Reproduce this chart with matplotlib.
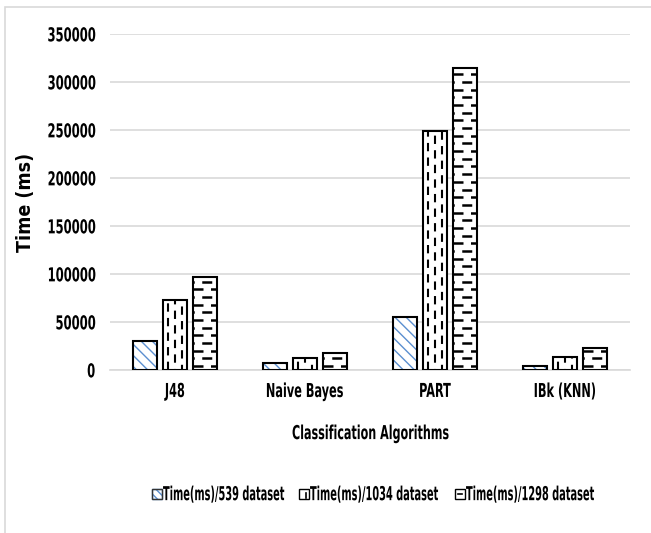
import numpy as np
import matplotlib
matplotlib.use("Agg")
import matplotlib.pyplot as plt
from matplotlib import font_manager
from matplotlib.patches import Rectangle
from matplotlib.lines import Line2D
from matplotlib.patheffects import AbstractPathEffect
from matplotlib.transforms import Affine2D
from matplotlib.textpath import TextPath

categories = ["J48", "Naive Bayes", "PART", "IBk (KNN)"]
series_names = ["Time(ms)/539 dataset", "Time(ms)/1034 dataset", "Time(ms)/1298 dataset"]
t539 = [30000, 6800, 55000, 4200]
t1034 = [73000, 12800, 249000, 13900]
t1298 = [97000, 17400, 315000, 22600]
yticks = [0, 50000, 100000, 150000, 200000, 250000, 300000, 350000]


def pick_font():
    # look for a narrow bold face, close to the Calibri look of the original
    best = None
    for f in font_manager.fontManager.ttflist:
        name = f.name + " " + str(f.fname)
        narrow = ('Narrow' in name or 'Condensed' in name
                  or f.stretch in ('condensed', 'semi-condensed', 'extra-condensed'))
        bold = f.weight in ('bold', 700, 'semibold', 600) or 'Bold' in str(f.fname)
        if narrow and bold and 'Oblique' not in f.fname and 'Italic' not in f.fname:
            if best is None or 'Liberation' in f.fname:
                best = f.fname
    if best is None:
        best = font_manager.findfont(font_manager.FontProperties(family='Liberation Sans',
                                                                  weight='bold'))
    return best


font_path = pick_font()
DPI = 100


def fp(size):
    return font_manager.FontProperties(fname=font_path, size=size)


def fit(s, w_px, cap_px=14):
    # font size giving the wanted width, and the vertical stretch giving the wanted cap height
    w10 = TextPath((0, 0), s, prop=fp(10)).get_extents().width * DPI / 72
    size = 10 * w_px / w10
    cap = TextPath((0, 0), "H", prop=fp(size)).get_extents().height * DPI / 72
    return size, cap_px / cap


class Stretch(AbstractPathEffect):
    """Stretch the glyphs vertically (the original image is stretched)."""

    def __init__(self, k):
        super().__init__()
        self.k = k

    def draw_path(self, renderer, gc, tpath, affine, rgbFace=None):
        v = tpath.vertices
        if len(v) == 0:
            return
        py = v[:, 1].max() / 2
        t = Affine2D().translate(0, -py).scale(1, self.k).translate(0, py) + affine
        renderer.draw_path(gc, tpath, t, rgbFace)


fig = plt.figure(figsize=(6.51, 5.33), dpi=DPI)
W, H = fig.get_size_inches() * DPI
ax = fig.add_axes([110 / W, 1 - 370 / H, 520 / W, 336 / H])

x = np.arange(len(categories))
w = 0.18
offsets = [-0.23, 0, 0.23]
blue = '#5b8fd0'

# chart frame
fig.patches.append(Rectangle((0.008, -0.01), 1.1, 0.997, transform=fig.transFigure,
                             fill=False, edgecolor='#d9d9d9', lw=1.2))

b1 = ax.bar(x + offsets[0], t539, w, color='white', edgecolor=blue, hatch='\\\\\\', lw=0, zorder=3)
for r in b1:
    ax.add_patch(Rectangle(r.get_xy(), r.get_width(), r.get_height(), fill=False,
                           edgecolor='black', lw=1.5, zorder=4))

b2 = ax.bar(x + offsets[1], t1034, w, color='white', edgecolor='black', lw=1.5, zorder=3)
for r in b2:
    x0, wd, h = r.get_x(), r.get_width(), r.get_height()
    for fx, off in [(0.22, 0), (0.5, 3.5), (0.8, 1.5)]:
        ln, = ax.plot([x0 + fx * wd] * 2, [0, h], color='black', lw=1.5,
                      ls=(off, (4, 3)), zorder=4)
        ln.set_clip_path(r)

b3 = ax.bar(x + offsets[2], t1298, w, color='white', edgecolor='black', lw=1.5, zorder=3)
for r in b3:
    x0, wd, h = r.get_x(), r.get_width(), r.get_height()
    for i, yy in enumerate(np.arange(4000, h, 8000)):
        off = 0 if i % 2 == 0 else 3.5
        ln, = ax.plot([x0, x0 + wd], [yy, yy], color='black', lw=1.8,
                      ls=(off, (4, 3)), zorder=4)
        ln.set_clip_path(r)

ax.set_ylim(0, 350000)
ax.set_xlim(-0.5, 3.5)

ys, yk = fit("350000", 47)
xs, xk = fit("Naive Bayes", 76)
ls_, lk = fit("Classification Algorithms", 156)
gs, gk = fit("Time(ms)/1034 dataset", 128)

ax.set_yticks(yticks)
ax.set_yticklabels([str(v) for v in yticks], fontproperties=fp(ys),
                   path_effects=[Stretch(yk)])
ax.set_xticks(x)
ax.set_xticklabels(categories, fontproperties=fp(xs), path_effects=[Stretch(xk)])
ax.tick_params(length=0)
ax.tick_params(axis='y', pad=15 * 72 / DPI)
for t in ax.get_xticklabels():
    t.set_va('center')
ax.tick_params(axis='x', pad=21 * 72 / DPI)
ax.grid(axis='y', color='#d9d9d9', lw=1.2, zorder=0)
for s in ['top', 'right', 'left']:
    ax.spines[s].set_visible(False)
ax.spines['bottom'].set_color('#d9d9d9')
ax.spines['bottom'].set_linewidth(1.2)

ax.set_ylabel("Time (ms)", fontproperties=fp(14))
ax.yaxis.set_label_coords(-0.145, 0.5)
ax.set_xlabel("Classification Algorithms", fontproperties=fp(ls_),
              path_effects=[Stretch(lk)], va='center')
ax.xaxis.set_label_coords(0.5, -(433 - 370) / 336)

# legend, drawn by hand so the narrow labels sit like in the original
leg_y = 1 - 494 / H
hs = 10
for k, (name, hx) in enumerate(zip(series_names, [152, 299, 455])):
    box = Rectangle((hx / W, leg_y - hs / 2 / H), hs / W, hs / H, transform=fig.transFigure,
                    facecolor='white', edgecolor='black', lw=1.0,
                    hatch='\\\\\\\\' if k == 0 else None)
    if k == 0:
        box.set_edgecolor(blue)
        fig.patches.append(box)
        box = Rectangle((hx / W, leg_y - hs / 2 / H), hs / W, hs / H, transform=fig.transFigure,
                        fill=False, edgecolor='#333333', lw=1.0)
    fig.patches.append(box)
    if k == 1:
        fig.lines.append(Line2D([(hx + 7) / W] * 2, [leg_y - 4 / H, leg_y + 1 / H],
                                transform=fig.transFigure, color='black', lw=1.2))
    if k == 2:
        fig.lines.append(Line2D([(hx + 3) / W, (hx + 7) / W], [leg_y, leg_y],
                                transform=fig.transFigure, color='black', lw=1.2))
    fig.text((hx + hs + 1) / W, leg_y, name, fontproperties=fp(gs), ha='left', va='center',
             path_effects=[Stretch(gk)])

fig.savefig("out.png", dpi=DPI)
